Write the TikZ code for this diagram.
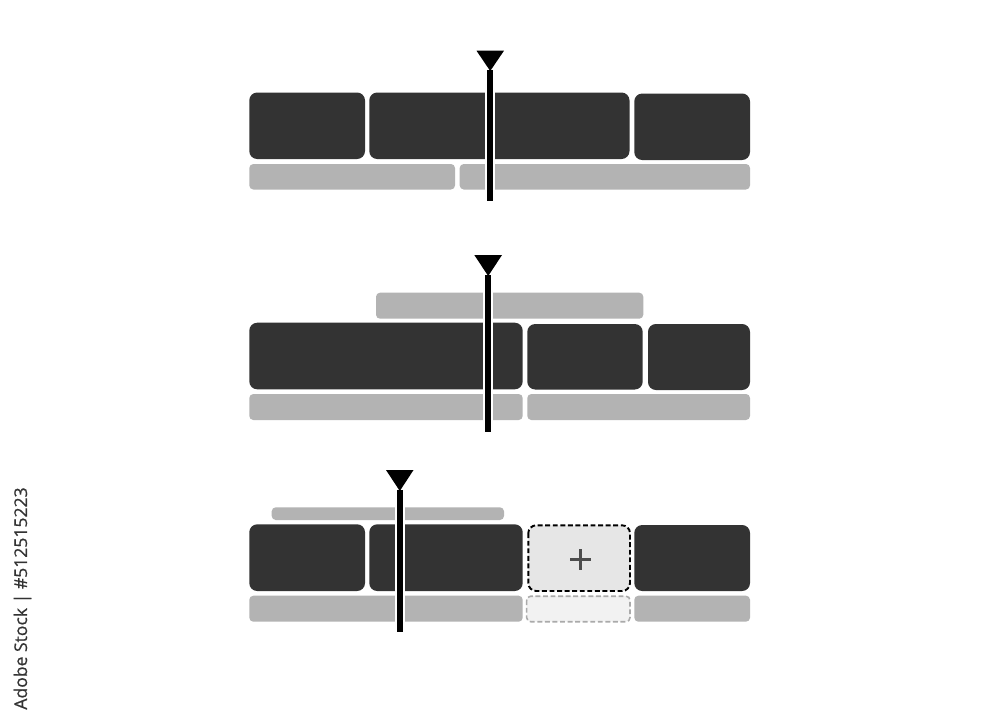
\documentclass[tikz,border=0pt]{standalone}
\usepackage{fontspec}
\newfontfamily\wmfont[FakeBold=0.6]{Open Sans}
\definecolor{darkblk}{HTML}{333333}
\definecolor{grayblk}{HTML}{B3B3B3}
\definecolor{addfill}{HTML}{E6E6E6}
\definecolor{addlow}{HTML}{F2F2F2}
\definecolor{addlowline}{HTML}{AAAAAA}
\definecolor{plusc}{HTML}{4D4D4D}
\definecolor{wmc}{HTML}{333333}
\begin{document}
\begin{tikzpicture}[x=0.02cm,y=-0.02cm,
  darkb/.style={fill=darkblk,rounded corners=4.5pt},
  grayb/.style={fill=grayblk,rounded corners=2.3pt},
  addb/.style={fill=addfill,draw=black,line width=1.1pt,dash pattern=on 2.8pt off 1.5pt,rounded corners=4.5pt},
  addlowb/.style={fill=addlow,draw=addlowline,line width=0.9pt,dash pattern=on 2.8pt off 1.5pt,rounded corners=2.3pt},
  headhalo/.style={draw=white,line width=5.6pt},
  headline/.style={draw=black,line width=3.1pt},
  headtri/.style={fill=black},
  plusbar/.style={draw=plusc,line width=2.1pt}
]
\useasboundingbox[fill=white] (0,0) rectangle (1000,714);

% ---------- panel 1 ----------
\path[darkb] (249.3,92.5) rectangle (365,159);
\path[darkb] (369.3,92.5) rectangle (629.5,159);
\path[darkb] (634.3,93.5) rectangle (750,160);
\path[grayb] (249.3,164) rectangle (455,189.5);
\path[grayb] (459.7,164) rectangle (750,189.5);
\coordinate (h1top) at (490,70);
\coordinate (h1bot) at (490,201);
\draw[headhalo] ([yshift=-6]h1top) -- ([yshift=2]h1bot);
\draw[headline] (h1top) -- (h1bot);
\path[headtri] (476.5,50.7) -- (504,50.7) -- (490.2,71) -- cycle;

% ---------- panel 2 ----------
\path[grayb] (376,292.7) rectangle (643.3,318.7);
\path[darkb] (249.3,322.7) rectangle (522.7,389.3);
\path[darkb] (527.3,324) rectangle (642.7,389.5);
\path[darkb] (648,324) rectangle (750,390);
\path[grayb] (249.3,394) rectangle (522.7,420);
\path[grayb] (527.3,394) rectangle (750,420);
\coordinate (h2top) at (488,275);
\coordinate (h2bot) at (488,431.7);
\draw[headhalo] ([yshift=-6]h2top) -- ([yshift=2]h2bot);
\draw[headline] (h2top) -- (h2bot);
\path[headtri] (474.3,255) -- (502,255) -- (488.2,276) -- cycle;

% ---------- panel 3 ----------
\path[grayb] (271.7,507.3) rectangle (504,520);
\path[darkb] (249.3,524.3) rectangle (365,591);
\path[darkb] (369.3,524.3) rectangle (522.7,591);
\path[addb] (528.3,525.3) rectangle (630,591);
\path[darkb] (634.3,525) rectangle (750,591);
\path[grayb] (249.3,595.7) rectangle (522.7,621.7);
\path[addlowb] (526.7,596.2) rectangle (630,621.7);
\path[grayb] (634.3,595.7) rectangle (750,621.7);
\coordinate (plusL) at (570,559.5);
\coordinate (plusR) at (591,559.5);
\coordinate (plusT) at (580.5,549);
\coordinate (plusB) at (580.5,570);
\draw[plusbar] (plusL) -- (plusR);
\draw[plusbar] (plusT) -- (plusB);
\coordinate (h3top) at (400,490);
\coordinate (h3bot) at (400,631.7);
\draw[headhalo] ([yshift=-6]h3top) -- ([yshift=2]h3bot);
\draw[headline] (h3top) -- (h3bot);
\path[headtri] (386,470) -- (413.5,470) -- (399.8,491) -- cycle;

% ---------- watermark label ----------
\node[rotate=90,anchor=base west,inner sep=0pt,text=wmc,font=\wmfont\fontsize{10pt}{12pt}\selectfont] (wm) at (27,710) {Adobe Stock | \#512515223};
\end{tikzpicture}
\end{document}
